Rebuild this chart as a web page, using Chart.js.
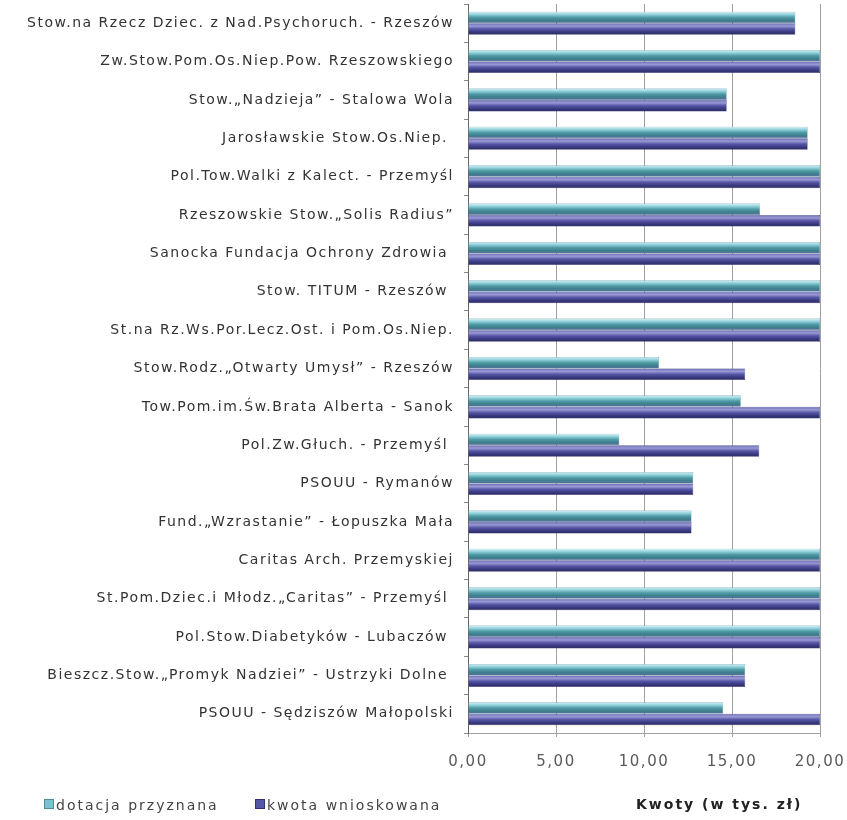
<!DOCTYPE html>
<html>
<head>
<meta charset="utf-8">
<script src="https://cdn.jsdelivr.net/npm/chart.js@4.4.1/dist/chart.umd.min.js"></script>
<style>
  body { margin: 0; background: #fff; }
  #wrap { position: relative; width: 847px; height: 820px; }
  .leg { position: absolute; top: 797px; font: 14px "DejaVu Sans", sans-serif; letter-spacing: 2px; color: #444; white-space: nowrap; }
  .leg i { display: inline-block; width: 8px; height: 8px; margin-right: 2px; vertical-align: 1px; }
  #xtitle { position: absolute; left: 636px; top: 796px; font: bold 14px "DejaVu Sans", sans-serif; letter-spacing: 2px; color: #222; white-space: nowrap; }
</style>
</head>
<body>
<div id="wrap">
  <canvas id="chart" width="847" height="820"></canvas>
  <div class="leg" style="left:44px"><i style="background:#79c3cf;border:1px solid #4d8d9a"></i>dotacja przyznana</div>
  <div class="leg" style="left:255px"><i style="background:#5656a6;border:1px solid #33336e"></i>kwota wnioskowana</div>
  <div id="xtitle">Kwoty (w tys. zł)</div>
</div>
<script>
const labels = [
  "Stow.na Rzecz Dziec. z Nad.Psychoruch. - Rzeszów",
  "Zw.Stow.Pom.Os.Niep.Pow. Rzeszowskiego",
  "Stow.„Nadzieja” - Stalowa Wola",
  "Jarosławskie Stow.Os.Niep. ",
  "Pol.Tow.Walki z Kalect. - Przemyśl",
  "Rzeszowskie Stow.„Solis Radius”",
  "Sanocka Fundacja Ochrony Zdrowia ",
  "Stow. TITUM - Rzeszów ",
  "St.na Rz.Ws.Por.Lecz.Ost. i Pom.Os.Niep.",
  "Stow.Rodz.„Otwarty Umysł” - Rzeszów",
  "Tow.Pom.im.Św.Brata Alberta - Sanok",
  "Pol.Zw.Głuch. - Przemyśl ",
  "PSOUU - Rymanów",
  "Fund.„Wzrastanie” - Łopuszka Mała",
  "Caritas Arch. Przemyskiej",
  "St.Pom.Dziec.i Młodz.„Caritas” - Przemyśl ",
  "Pol.Stow.Diabetyków - Lubaczów ",
  "Bieszcz.Stow.„Promyk Nadziei” - Ustrzyki Dolne ",
  "PSOUU - Sędziszów Małopolski"
];
const dotacja = [18.6, 20, 14.7, 19.3, 20, 16.6, 20, 20, 20, 10.85, 15.5, 8.6, 12.8, 12.7, 20, 20, 20, 15.75, 14.5];
const kwota   = [18.6, 20, 14.7, 19.3, 20, 20, 20, 20, 20, 15.75, 20, 16.55, 12.8, 12.7, 20, 20, 20, 15.75, 20];
const xTicks = [0, 5, 10, 15, 20];

const catPct = 0.6;

// cylinder-like shading, position taken from the category scale
function cylinder(stops, fallback) {
  return function (ctx) {
    const chart = ctx.chart;
    const y = chart.scales && chart.scales.y;
    if (!y || !y.height || ctx.dataIndex === undefined) return fallback;
    const c = y.getPixelForValue(ctx.dataIndex);
    const h = y.height / labels.length * catPct / 2;
    const top = ctx.datasetIndex === 0 ? c - h : c;
    const g = chart.ctx.createLinearGradient(0, top, 0, top + h);
    stops.forEach((s, i) => g.addColorStop(i / (stops.length - 1), s));
    return g;
  };
}

// wider letter spacing like the original picture (only when drawing)
const spacing = {
  id: "spacing",
  beforeDraw: (chart) => { chart.ctx.letterSpacing = "1.5px"; }
};

new Chart(document.getElementById("chart"), {
  type: "bar",
  data: {
    labels: labels,
    datasets: [
      {
        label: "dotacja przyznana",
        data: dotacja,
        backgroundColor: cylinder(["#d8f2f6", "#8fd0da", "#4f9aa6", "#3d7f8c", "#5f6fa0"], "#79c3cf"),
        borderColor: "#4d8d9a",
        borderWidth: 0.5,
        categoryPercentage: catPct,
        barPercentage: 1.0
      },
      {
        label: "kwota wnioskowana",
        data: kwota,
        backgroundColor: cylinder(["#6a6ab4", "#9a9ad6", "#5656a6", "#3a3a82", "#2a2a60"], "#5656a6"),
        borderColor: "#2e2e66",
        borderWidth: 0.5,
        categoryPercentage: catPct,
        barPercentage: 1.0
      }
    ]
  },
  plugins: [spacing],
  options: {
    indexAxis: "y",
    responsive: false,
    animation: false,
    layout: { padding: { top: 4, right: 27, bottom: 47, left: 0 } },
    plugins: {
      legend: { display: false },
      tooltip: { enabled: false }
    },
    scales: {
      x: {
        min: 0,
        max: 20,
        afterBuildTicks: (scale) => { scale.ticks = xTicks.map(v => ({ value: v })); },
        afterFit: (scale) => { scale.height = 40; scale.paddingLeft = 0; scale.paddingRight = 0; },
        ticks: {
          color: "#5a5a5a",
          font: { family: "DejaVu Sans", size: 15 },
          padding: 16,
          callback: (v) => Number(v).toFixed(2).replace(".", ",")
        },
        grid: { color: "#a0a0a0", lineWidth: 1, tickLength: 4, tickColor: "#a0a0a0" },
        border: { display: true, color: "#a0a0a0" }
      },
      y: {
        afterFit: (scale) => { scale.width = 468; scale.paddingTop = 0; scale.paddingBottom = 0; },
        ticks: {
          color: "#333",
          font: { family: "DejaVu Sans", size: 14 },
          padding: 10,
          autoSkip: false
        },
        grid: { offset: true, drawOnChartArea: false, tickLength: 4, color: "#888" },
        border: { display: true, color: "#666" }
      }
    }
  }
});
</script>
</body>
</html>
